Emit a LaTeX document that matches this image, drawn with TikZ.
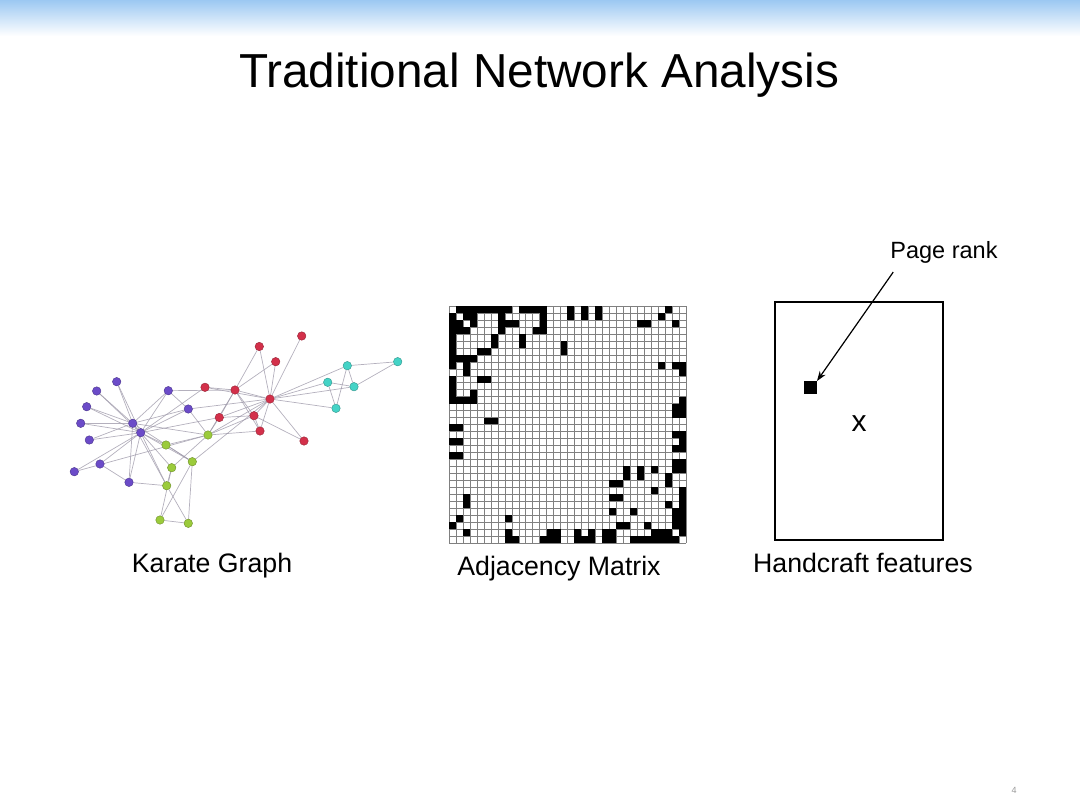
\documentclass[tikz,border=0pt]{standalone}
\usepackage{fontspec}
\setmainfont{Liberation Sans}
\usetikzlibrary{arrows.meta}
\definecolor{kpurple}{HTML}{6B4BC8}
\definecolor{kred}{HTML}{D3304A}
\definecolor{kgreen}{HTML}{9BCB3B}
\definecolor{kcyan}{HTML}{44D3C6}
\definecolor{slidebar}{HTML}{9CC8F2}
\pgfdeclarelayer{edges}
\pgfsetlayers{edges,main}
% Zachary karate club, edges i/j
\newcommand{\karateedges}{1/2,1/3,1/4,1/5,1/6,1/7,1/8,1/9,1/11,1/12,1/13,1/14,1/18,1/20,1/22,1/32,
2/3,2/4,2/8,2/14,2/18,2/20,2/22,2/31,3/4,3/8,3/9,3/10,3/14,3/28,3/29,3/33,
4/8,4/13,4/14,5/7,5/11,6/7,6/11,6/17,7/17,9/31,9/33,9/34,10/34,14/34,
15/33,15/34,16/33,16/34,19/33,19/34,20/34,21/33,21/34,23/33,23/34,
24/26,24/28,24/30,24/33,24/34,25/26,25/28,25/32,26/32,27/30,27/34,28/34,
29/32,29/34,30/33,30/34,31/33,31/34,32/33,32/34,33/34}

\begin{document}
\begin{tikzpicture}[x=1pt,y=-1pt,
  kpnode/.style={circle,inner sep=0pt,minimum size=8.5pt,fill=#1,draw=#1!70!black,line width=.4pt},
  kedge/.style={draw=kpurple!30!black!45,line width=.7pt,opacity=.75},
  mgrid/.style={draw=black!50,line width=.4pt},
  lbl/.style={anchor=base,font=\fontsize{26.7}{32}\selectfont}]
\useasboundingbox (0,0) rectangle (1080,809);
\shade[top color=slidebar,bottom color=white] (0,0) rectangle (1080,36);
\node[anchor=base,font=\fontsize{47.7}{56}\selectfont] (title) at (539,87) {Traditional Network Analysis};

% karate graph
\node[kpnode=kred] (k1) at (270,399) {};
\node[kpnode=kred] (k2) at (235,390) {};
\node[kpnode=kgreen] (k3) at (208,435) {};
\node[kpnode=kred] (k4) at (254,415.7) {};
\node[kpnode=kcyan] (k5) at (327.7,382.3) {};
\node[kpnode=kcyan] (k6) at (347.3,365.7) {};
\node[kpnode=kcyan] (k7) at (354,386.7) {};
\node[kpnode=kred] (k8) at (260,431) {};
\node[kpnode=kpurple] (k9) at (188.3,409) {};
\node[kpnode=kpurple] (k10) at (74.3,471.7) {};
\node[kpnode=kcyan] (k11) at (336,408.3) {};
\node[kpnode=kred] (k12) at (301.7,336) {};
\node[kpnode=kred] (k13) at (304,441) {};
\node[kpnode=kred] (k14) at (219.3,417.5) {};
\node[kpnode=kpurple] (k15) at (116.7,381.7) {};
\node[kpnode=kpurple] (k16) at (96.7,391) {};
\node[kpnode=kcyan] (k17) at (397.7,361.7) {};
\node[kpnode=kred] (k18) at (259.3,346.5) {};
\node[kpnode=kpurple] (k19) at (86.7,406.7) {};
\node[kpnode=kred] (k20) at (205,387.3) {};
\node[kpnode=kpurple] (k21) at (80.7,423.3) {};
\node[kpnode=kred] (k22) at (275.7,361.7) {};
\node[kpnode=kpurple] (k23) at (89.3,440) {};
\node[kpnode=kgreen] (k24) at (166.7,485.7) {};
\node[kpnode=kgreen] (k25) at (160,520) {};
\node[kpnode=kgreen] (k26) at (188.3,523.3) {};
\node[kpnode=kpurple] (k27) at (100,464) {};
\node[kpnode=kgreen] (k28) at (171.7,467.7) {};
\node[kpnode=kgreen] (k29) at (166,445) {};
\node[kpnode=kpurple] (k30) at (129,482.3) {};
\node[kpnode=kpurple] (k31) at (168.3,390.7) {};
\node[kpnode=kgreen] (k32) at (192.3,461.7) {};
\node[kpnode=kpurple] (k33) at (132.7,423.3) {};
\node[kpnode=kpurple] (k34) at (140.7,432.7) {};
\begin{pgfonlayer}{edges}
\foreach \a/\b in \karateedges \draw[kedge] (k\a) -- (k\b);
\end{pgfonlayer}
\node[lbl] (graphlabel) at (212,572) {Karate Graph};

% adjacency matrix
\begin{scope}[shift={(449,306)},x=6.97pt,y=-6.97pt]
\foreach \k in {0,...,34} {\draw[mgrid] (\k,0) -- (\k,34); \draw[mgrid] (0,\k) -- (34,\k);}
\foreach \i/\j in \karateedges {\fill (\j-1,\i-1) rectangle (\j,\i); \fill (\i-1,\j-1) rectangle (\i,\j);}
\end{scope}
\node[lbl] (matrixlabel) at (559,575) {Adjacency Matrix};

% handcraft features
\node[draw,line width=2.8pt,minimum width=168pt,minimum height=238pt,inner sep=0pt] (feat) at (859,421) {};
\node[fill=black,inner sep=0pt,minimum size=12.5pt] (prcell) at (810.5,387.5) {};
\node[anchor=base,font=\fontsize{30}{36}\selectfont] (featx) at (859,431.5) {x};
\node[anchor=base,inner sep=0pt,font=\fontsize{23.5}{28}\selectfont] (pagerank) at (944,258) {Page rank};
\draw[-{Stealth[length=10pt,width=7pt]},line width=1.2pt] ([xshift=3pt,yshift=-9pt]pagerank.south west) -- (prcell.north east);
\node[lbl] (featlabel) at (863,572) {Handcraft features};

\node[anchor=base,font=\fontsize{9}{10}\selectfont,text=black!40] (pageno) at (1014,793) {4};
\end{tikzpicture}
\end{document}
